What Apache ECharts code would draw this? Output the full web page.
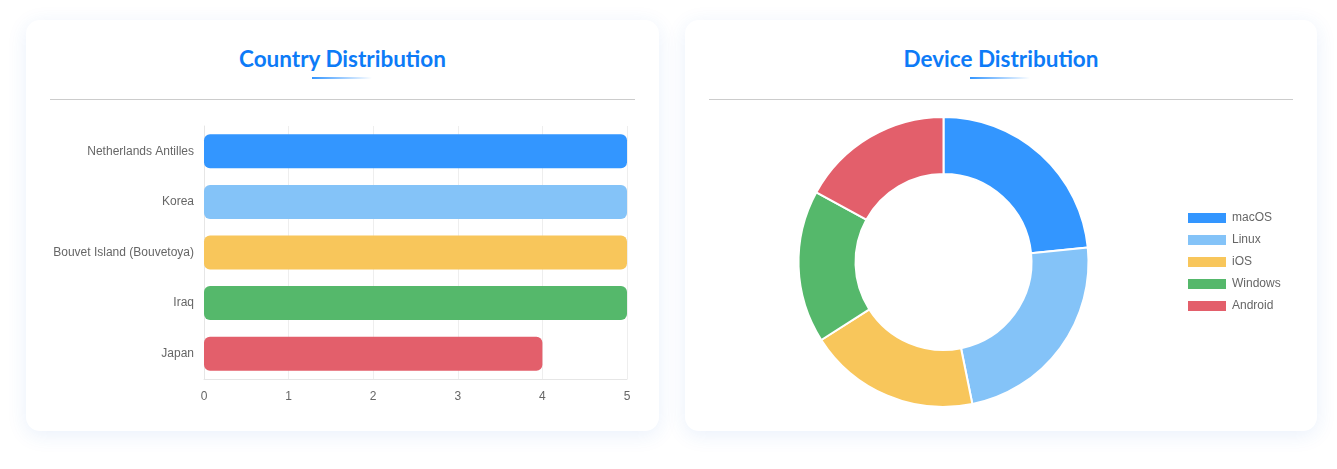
<!DOCTYPE html>
<html>
<head>
<meta charset="utf-8">
<script src="https://cdn.jsdelivr.net/npm/echarts@6/dist/echarts.min.js"></script>
<style>
  html, body { margin: 0; padding: 0; background: #ffffff; width: 1337px; height: 469px; overflow: hidden; }
  .card { position: absolute; top: 20px; height: 411px; background: #fff; border-radius: 14px;
          box-shadow: 0 4px 20px rgba(40, 110, 220, 0.10); }
  .title { position: absolute; left: 0; right: 0; top: 25px; text-align: center;
           font-family: Lato, "Open Sans", sans-serif; font-weight: 700; font-size: 22.5px; color: #0d7bf7; }
  .uline { position: absolute; top: 57px; left: 50%; margin-left: -31px; width: 60px; height: 2px;
           background: linear-gradient(90deg, #3395ff, rgba(51,149,255,0)); }
  .sep { position: absolute; top: 79px; left: 24px; right: 24px; height: 1px; background: #cccccc; }
  #chart { position: absolute; left: 0; top: 0; width: 1337px; height: 469px; }
</style>
</head>
<body>
<div class="card" style="left:26px;width:633px;">
  <div class="title">Country Distribution</div>
  <div class="uline"></div>
  <div class="sep"></div>
</div>
<div class="card" style="left:685px;width:632px;">
  <div class="title">Device Distribution</div>
  <div class="uline"></div>
  <div class="sep"></div>
</div>
<div id="chart"></div>
<script>
const countries = ['Netherlands Antilles', 'Korea', 'Bouvet Island (Bouvetoya)', 'Iraq', 'Japan'];
const countryValues = [5, 5, 5, 5, 4];
const devices = ['macOS', 'Linux', 'iOS', 'Windows', 'Android'];
const deviceValues = [11, 11, 9, 8, 8];
const xTicks = [0, 1, 2, 3, 4, 5];
const palette = ['#3396ff', '#84c3f8', '#f8c65b', '#55b86b', '#e35f6b'];

const chart = echarts.init(document.getElementById('chart'), null, { renderer: 'canvas' });
chart.setOption({
  animation: false,
  backgroundColor: 'transparent',
  textStyle: { fontFamily: '"Liberation Sans", Arial, sans-serif' },
  grid: { left: 204, right: 710, top: 126, bottom: 90, containLabel: false },
  xAxis: {
    type: 'value', min: xTicks[0], max: xTicks[xTicks.length - 1], interval: 1,
    axisLine: { show: true, lineStyle: { color: '#e6e6e6' } },
    axisTick: { show: false },
    axisLabel: { color: '#666', fontSize: 12, margin: 12 },
    splitLine: { show: true, lineStyle: { color: '#eeeeee' } }
  },
  yAxis: {
    type: 'category', data: countries, inverse: true,
    axisLine: { show: true, lineStyle: { color: '#e6e6e6' } },
    axisTick: { show: false },
    axisLabel: { color: '#666', fontSize: 12, margin: 10 },
    splitLine: { show: false }
  },
  legend: {
    data: devices, orient: 'vertical', left: 1181, top: 206,
    itemWidth: 40, itemHeight: 12, itemGap: 8, icon: 'rect',
    textStyle: { color: '#666', fontSize: 12 }
  },
  series: [
    {
      type: 'bar', barWidth: 34,
      data: countryValues.map((v, i) => ({ value: v, itemStyle: { color: palette[i] } })),
      itemStyle: { borderRadius: 6 }
    },
    {
      type: 'pie', center: [943.5, 262], radius: [88, 145], startAngle: 90, clockwise: true,
      label: { show: false }, labelLine: { show: false },
      itemStyle: { borderColor: '#fff', borderWidth: 2 },
      data: devices.map((d, i) => ({ name: d, value: deviceValues[i], itemStyle: { color: palette[i] } }))
    }
  ]
});
</script>
</body>
</html>
